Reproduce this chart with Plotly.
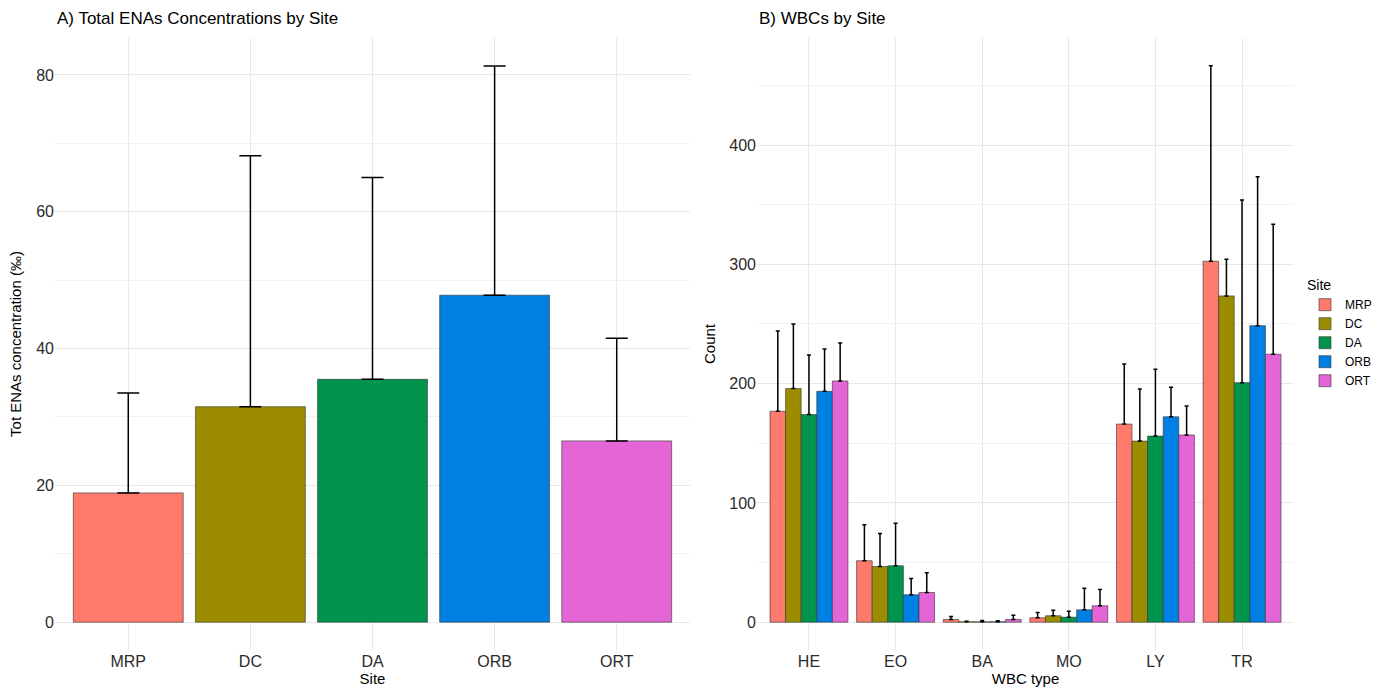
import plotly.graph_objects as go

# ---- data ----
sites = ["MRP", "DC", "DA", "ORB", "ORT"]
ena_mean = [18.9, 31.5, 35.5, 47.8, 26.5]
ena_upper = [33.5, 68.2, 65.0, 81.3, 41.5]

wbc_types = ["HE", "EO", "BA", "MO", "LY", "TR"]
wbc_mean = {
    "MRP": [176.8, 51.5, 2.3, 3.7, 166.1, 302.6],
    "DC":  [195.8, 46.7, 0.4, 5.4, 151.8, 273.5],
    "DA":  [174.0, 47.3, 0.3, 4.2, 156.0, 200.8],
    "ORB": [193.5, 23.0, 0.4, 10.4, 172.2, 248.6],
    "ORT": [202.2, 24.9, 2.3, 13.8, 156.9, 224.6],
}
wbc_upper = {
    "MRP": [244.0, 81.7, 4.8, 8.1, 216.4, 466.4],
    "DC":  [250.0, 74.4, 0.9, 10.1, 195.5, 304.3],
    "DA":  [224.0, 83.0, 1.4, 9.2, 212.0, 354.0],
    "ORB": [229.0, 36.7, 1.3, 28.5, 196.9, 373.3],
    "ORT": [234.0, 41.4, 5.9, 27.5, 181.2, 333.6],
}
site_colors = ["#FD7A6D", "#9C8D00", "#00944C", "#0080E2", "#E465D6"]

fig = go.Figure()

# Panel A
fig.add_trace(go.Bar(
    x=sites, y=ena_mean,
    marker=dict(color=site_colors, line=dict(color="#333333", width=0.6)),
    error_y=dict(type="data", symmetric=False,
                 array=[u - m for u, m in zip(ena_upper, ena_mean)],
                 arrayminus=[0] * len(sites),
                 color="black", thickness=1.5, width=11),
    showlegend=False, xaxis="x", yaxis="y",
))

# Panel B
for s, c in zip(sites, site_colors):
    fig.add_trace(go.Bar(
        x=wbc_types, y=wbc_mean[s], name=s,
        marker=dict(color=c, line=dict(color="#333333", width=0.6)),
        error_y=dict(type="data", symmetric=False,
                     array=[u - m for u, m in zip(wbc_upper[s], wbc_mean[s])],
                     arrayminus=[0] * len(wbc_types),
                     color="black", thickness=1.5, width=2),
        xaxis="x2", yaxis="y2", offsetgroup=s,
    ))

W, H = 1385, 693
grid = "#E8E8E8"
tickfont = dict(family="Liberation Sans, Arial, sans-serif", size=16, color="#2B2B2B")
titlefont = dict(family="Liberation Sans, Arial, sans-serif", size=15, color="black")

ydom = [1 - 650 / H, 1 - 38 / H]

fig.update_layout(
    width=W, height=H,
    margin=dict(l=0, r=0, t=0, b=0),
    paper_bgcolor="white", plot_bgcolor="white",
    barmode="group", bargap=0.1, bargroupgap=0,
    font=dict(family="Liberation Sans, Arial, sans-serif"),
    xaxis=dict(domain=[55 / W, 690 / W], range=[-0.6, 4.6], showgrid=True,
               gridcolor=grid, gridwidth=1.2, zeroline=False, showline=False,
               ticks="", tickfont=tickfont,
               title=dict(text="Site", font=titlefont, standoff=4),
               anchor="y"),
    yaxis=dict(domain=ydom, range=[-4.07, 85.4], tickvals=[0, 20, 40, 60, 80],
               showgrid=True, gridcolor=grid, gridwidth=1.2, zeroline=False,
               minor=dict(tickvals=[10, 30, 50, 70], showgrid=True,
                          gridcolor="#F2F2F2", gridwidth=1),
               ticks="", tickfont=tickfont,
               title=dict(text="Tot ENAs concentration (‰)", font=titlefont, standoff=10),
               anchor="x"),
    xaxis2=dict(domain=[757 / W, 1294 / W], range=[-0.6, 5.6], showgrid=True,
                gridcolor=grid, gridwidth=1.2, zeroline=False, showline=False,
                ticks="", tickfont=tickfont,
                title=dict(text="WBC type", font=titlefont, standoff=4),
                anchor="y2"),
    yaxis2=dict(domain=ydom, range=[-23.3, 489.7], tickvals=[0, 100, 200, 300, 400],
                showgrid=True, gridcolor=grid, gridwidth=1.2, zeroline=False,
                minor=dict(tickvals=[50, 150, 250, 350, 450], showgrid=True,
                           gridcolor="#F2F2F2", gridwidth=1),
                ticks="", tickfont=tickfont,
                title=dict(text="Count", font=titlefont, standoff=10),
                anchor="x2"),
    legend=dict(x=1305 / W, y=1 - 272 / H, xanchor="left", yanchor="top",
                title=dict(text="Site", font=dict(size=14, color="black")),
                font=dict(size=12, color="black"), tracegroupgap=0,
                itemwidth=30, bgcolor="rgba(0,0,0,0)"),
    annotations=[
        dict(text="A) Total ENAs Concentrations by Site", x=55 / W, y=1 - 18 / H,
             xref="paper", yref="paper", xanchor="left", yanchor="middle",
             showarrow=False, font=dict(size=17, color="black")),
        dict(text="B) WBCs by Site", x=757 / W, y=1 - 18 / H,
             xref="paper", yref="paper", xanchor="left", yanchor="middle",
             showarrow=False, font=dict(size=17, color="black")),
    ],
)

fig.write_html("out.html", config={"displayModeBar": False},
               post_script="document.body.style.margin='0';")
